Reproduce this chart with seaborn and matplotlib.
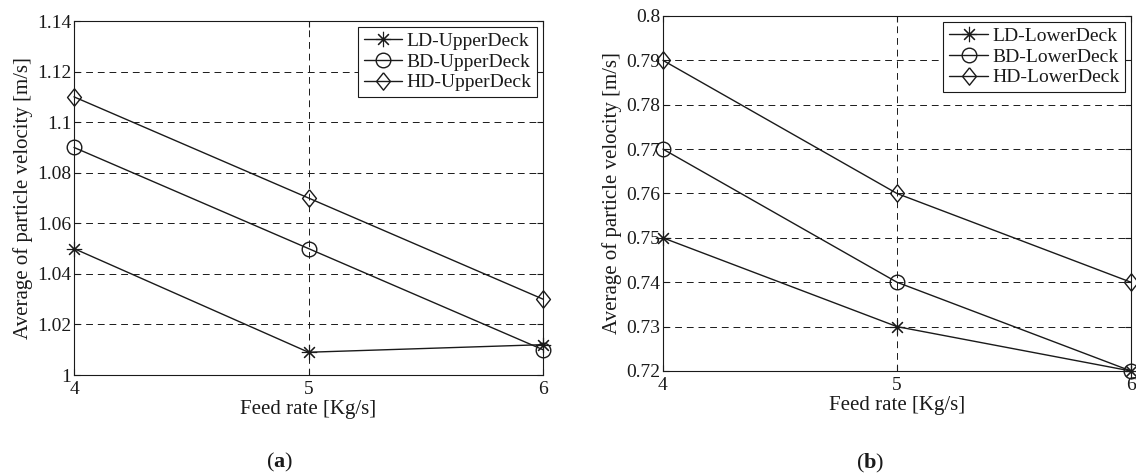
import numpy as np
import pandas as pd
import matplotlib
matplotlib.use("Agg")
import matplotlib.pyplot as plt
from matplotlib.ticker import FuncFormatter
import seaborn as sns

feed_rate = [4, 5, 6]

ld_upper = [1.05, 1.009, 1.012]
bd_upper = [1.09, 1.05, 1.01]
hd_upper = [1.11, 1.07, 1.03]

ld_lower = [0.75, 0.73, 0.72]
bd_lower = [0.77, 0.74, 0.72]
hd_lower = [0.79, 0.76, 0.74]

upper_ticks = [1.0, 1.02, 1.04, 1.06, 1.08, 1.1, 1.12, 1.14]
lower_ticks = [0.72, 0.73, 0.74, 0.75, 0.76, 0.77, 0.78, 0.79, 0.8]

sns.set_theme(style="ticks")
plt.rcParams['font.family'] = ['Liberation Serif', 'DejaVu Serif']
plt.rcParams['mathtext.fontset'] = 'custom'
plt.rcParams['mathtext.rm'] = 'Liberation Serif'
plt.rcParams['mathtext.bf'] = 'Liberation Serif:bold'
plt.rcParams['text.color'] = 'k'
plt.rcParams['axes.labelcolor'] = 'k'

fig = plt.figure(figsize=(11.36, 4.75), dpi=100)
W, H = 1136, 475
# axes boxes in pixels: left, right, top, bottom
ax_a = fig.add_axes([74 / W, 1 - 375 / H, (543 - 74) / W, (375 - 21) / H])
ax_b = fig.add_axes([663 / W, 1 - 371 / H, (1131 - 663) / W, (371 - 16) / H])

# matlab-like diamond, a bit taller than wide
diamond = [(0, 1), (0.8, 0), (0, -1), (-0.8, 0), (0, 1)]
markers = {"LD": dict(marker=(8, 2, 0), ms=11, mew=0.8),
           "BD": dict(marker="o", ms=10.5, mew=1.0),
           "HD": dict(marker=diamond, ms=12.5, mew=1.0)}


def draw(ax, series, deck, ticks):
    for name, vals in series:
        df = pd.DataFrame({"x": feed_rate, "y": vals})
        sns.lineplot(data=df, x="x", y="y", ax=ax, color="k", lw=1.0,
                     mfc="none", mec="k", clip_on=False, zorder=3,
                     label=f"{name}-{deck}", **markers[name])
    ax.set_xlim(4, 6)
    ax.set_ylim(ticks[0], ticks[-1])
    ax.set_xticks(feed_rate)
    ax.set_yticks(ticks)
    ax.yaxis.set_major_formatter(FuncFormatter(lambda v, p: f"{v:g}"))
    ax.grid(True, color="k", lw=0.7, linestyle=(0, (7, 5)))
    ax.tick_params(direction="in", length=4, width=0.8, top=True, right=True,
                   labelsize=14, colors="k")
    ax.tick_params(axis="y", pad=2)
    ax.tick_params(axis="x", pad=4)
    for s in ax.spines.values():
        s.set_color("k")
        s.set_linewidth(0.8)
    ax.set_xlabel("Feed rate [Kg/s]", fontsize=15, labelpad=2)
    ax.set_ylabel("Average of particle velocity [m/s]", fontsize=15, labelpad=3)
    leg = ax.legend(loc="upper right", fontsize=14, frameon=True, fancybox=False,
                    edgecolor="k", framealpha=1, handlelength=2.0,
                    handletextpad=0.2, borderpad=0.3, labelspacing=0.15,
                    borderaxespad=0.3)
    leg.get_frame().set_linewidth(0.8)
    leg.set_zorder(5)


draw(ax_a, [("LD", ld_upper), ("BD", bd_upper), ("HD", hd_upper)], "UpperDeck", upper_ticks)
draw(ax_b, [("LD", ld_lower), ("BD", bd_lower), ("HD", hd_lower)], "LowerDeck", lower_ticks)

fig.text(280 / W, 1 - 462 / H, r"($\mathbf{a}$)", ha="center", va="center", fontsize=16)
fig.text(870 / W, 1 - 463 / H, r"($\mathbf{b}$)", ha="center", va="center", fontsize=16)

fig.savefig("out.png", dpi=100)
